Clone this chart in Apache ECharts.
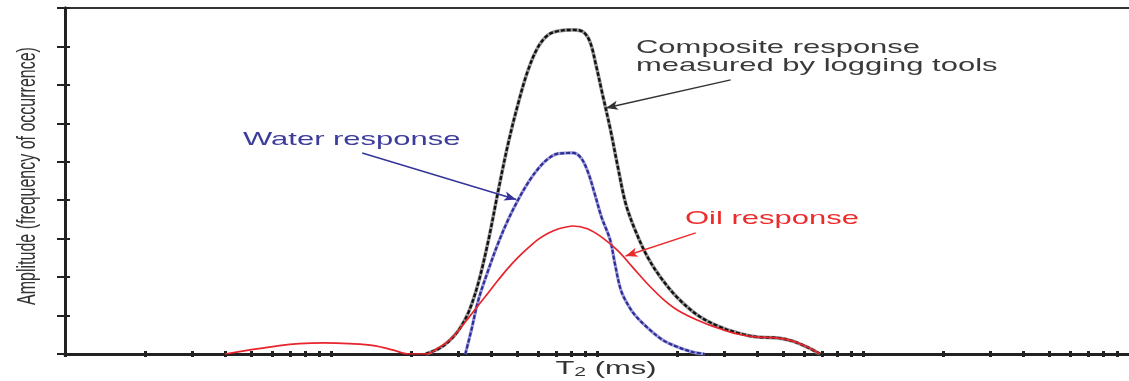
<!DOCTYPE html>
<html>
<head>
<meta charset="utf-8">
<script src="https://cdn.jsdelivr.net/npm/echarts@6/dist/echarts.min.js"></script>
<style>
    html, body {margin: 0; padding: 0; background: #fff;}
    #chart {width: 1129px; height: 381px;}
</style>
</head>
<body>
<div id="chart"></div>
<script>
// T2 (ms), amplitude in tick units (0..9)
const oilT2 = [0.40, 0.49, 0.64, 0.76, 0.94, 1.17, 1.45, 1.72, 1.96, 2.27, 2.54, 2.77, 3.02, 3.29, 3.58,
    3.91, 4.26, 4.64, 5.06, 5.51, 6.01, 6.55, 7.14, 8.13, 9.25, 10.5, 12.0, 13.6, 15.5, 17.7, 20.1, 23.9,
    28.4, 33.7, 40.1, 47.6, 54.2, 61.7, 69.0];
const oilAmp = [0, 0.10, 0.22, 0.27, 0.29, 0.27, 0.22, 0.10, 0, 0, 0.16, 0.34, 0.62, 0.94, 1.27,
    1.60, 1.93, 2.24, 2.52, 2.76, 2.98, 3.14, 3.25, 3.33, 3.25, 3.02, 2.68, 2.26, 1.82, 1.43, 1.14, 0.88,
    0.68, 0.52, 0.44, 0.42, 0.34, 0.18, 0];

const waterT2 = [3.20, 3.37, 3.58, 3.91, 4.26, 4.64, 5.06, 5.51, 6.01, 6.55, 7.14, 8.13, 8.71, 9.25, 9.83,
    10.4, 11.2, 11.7, 12.3, 13.1, 13.9, 15.5, 17.7, 20.1, 22.9, 25.4];
const waterAmp = [0, 0.62, 1.40, 2.20, 2.90, 3.50, 4.02, 4.46, 4.82, 5.08, 5.21, 5.23, 5.10, 4.73, 4.14,
    3.56, 2.97, 2.32, 1.66, 1.27, 1.01, 0.68, 0.36, 0.18, 0.05, 0];

const compositeT2 = [2.27, 2.54, 2.77, 3.02, 3.29, 3.58, 3.91, 4.26, 4.64, 5.06, 5.51, 6.01, 6.55, 7.14,
    8.13, 8.86, 9.41, 9.91, 10.5, 11.2, 12.0, 12.8, 13.9, 15.5, 17.4, 20.1, 23.9, 28.4, 33.7, 40.1, 47.6,
    54.2, 61.7, 69.0];
const compositeAmp = [0, 0.14, 0.33, 0.62, 1.09, 1.85, 2.97, 4.27, 5.49, 6.53, 7.39, 7.99, 8.30, 8.40,
    8.43, 8.38, 8.12, 7.52, 6.74, 5.88, 4.84, 3.93, 3.23, 2.52, 1.98, 1.46, 1.01, 0.73, 0.55, 0.44, 0.42,
    0.34, 0.18, 0];

// annotation arrows: [from, to]
const compositeArrow = [[31.8, 7.13], [10.8, 6.40]];
const waterArrow = [[1.31, 5.23], [4.97, 4.02]];
const oilArrow = [[23.5, 3.15], [12.8, 2.55]];

// tick marks on the log axis: 1..9 in every decade
const decades = [0.1, 1, 10, 100];
const tickMultipliers = [1, 2, 3, 4, 5, 6, 7, 8, 9];

const tickValues = [];
decades.forEach(d => tickMultipliers.forEach(m => tickValues.push(m * d)));

const zip = (xs, ys) => xs.map((x, i) => [x, ys[i]]);

const AXIS_COLOR = '#222';
const FONT = '"Liberation Sans", Arial, sans-serif';
const STRETCH = 1.63;

function logAxis(extra) {
    return Object.assign({
        type: 'log',
        logBase: 10,
        min: 0.1,
        max: 1000,
        position: 'bottom',
        axisLine: {show: true, lineStyle: {color: AXIS_COLOR, width: 3}},
        axisLabel: {show: false},
        splitLine: {show: false},
        minorTick: {show: false}
    }, extra);
}

function valueAxis(extra) {
    return Object.assign({
        type: 'value',
        min: 0,
        max: 9,
        interval: 1,
        position: 'left',
        axisLine: {show: true, lineStyle: {color: AXIS_COLOR, width: 3}},
        axisLabel: {show: false},
        splitLine: {show: false}
    }, extra);
}

function arrow(points, color) {
    return {
        silent: true,
        symbol: ['none', 'arrow'],
        symbolSize: [7, 12],
        label: {show: false},
        lineStyle: {color: color, width: 1.5, type: 'solid'},
        data: [[{coord: points[0]}, {coord: points[1]}]]
    };
}

function label(text, x, y, color) {
    return {
        type: 'text',
        x: x,
        y: y,
        scaleX: STRETCH,
        silent: true,
        style: {
            text: text,
            fill: color,
            font: '19px ' + FONT,
            textAlign: 'left',
            textVerticalAlign: 'middle'
        }
    };
}

function curve(name, xs, ys, lineStyle, markLine) {
    return {
        name: name,
        type: 'line',
        data: zip(xs, ys),
        smooth: 0.35,
        symbol: 'none',
        lineStyle: lineStyle,
        markLine: markLine
    };
}

const chart = echarts.init(document.getElementById('chart'), null, {renderer: 'canvas'});

chart.setOption({
    animation: false,
    backgroundColor: '#fff',
    grid: {left: 65, top: 8, width: 1068, bottom: 27, containLabel: false},
    xAxis: [
        logAxis({axisTick: {show: true, customValues: tickValues, length: 3, lineStyle: {color: AXIS_COLOR, width: 3}}}),
        logAxis({axisTick: {show: true, inside: true, customValues: tickValues, length: 3,
            lineStyle: {color: AXIS_COLOR, width: 3}}}),
        logAxis({position: 'top', axisLine: {show: true, lineStyle: {color: '#333', width: 2}}, axisTick: {show: false}})
    ],
    yAxis: [
        valueAxis({axisTick: {show: true, length: 8, lineStyle: {color: AXIS_COLOR, width: 2}}}),
        valueAxis({axisTick: {show: true, inside: true, length: 5, lineStyle: {color: AXIS_COLOR, width: 2}}})
    ],
    series: [
        curve('Composite base', compositeT2, compositeAmp, {color: '#9a9a9a', width: 3.6}),
        curve('Composite', compositeT2, compositeAmp, {color: '#111', width: 2.4, type: [4, 2]},
            arrow(compositeArrow, '#333')),
        curve('Water base', waterT2, waterAmp, {color: '#9c9cd8', width: 3.2}),
        curve('Water', waterT2, waterAmp, {color: '#2e2e99', width: 2.2, type: [4, 2]},
            arrow(waterArrow, '#33339a')),
        curve('Oil', oilT2, oilAmp, {color: '#e8232b', width: 1.7}, arrow(oilArrow, '#ec2a2a'))
    ],
    graphic: [
        label('Composite response', 636, 48, '#3a3a3a'),
        label('measured by logging tools', 636, 66, '#3a3a3a'),
        label('Water response', 243, 140, '#3c3c9c'),
        label('Oil response', 685, 219, '#ee2b2b'),
        {
            type: 'text',
            x: 28,
            y: 176,
            rotation: Math.PI / 2,
            scaleY: STRETCH,
            silent: true,
            style: {
                text: 'Amplitude (frequency of occurrence)',
                fill: '#333',
                font: '16px ' + FONT,
                textAlign: 'center',
                textVerticalAlign: 'middle'
            }
        },
        {
            type: 'text',
            x: 606,
            y: 369,
            scaleX: STRETCH,
            silent: true,
            style: {
                text: '{a|T}{b|2}{a| (ms)}',
                textAlign: 'center',
                textVerticalAlign: 'middle',
                rich: {
                    a: {fontSize: 19, fontFamily: FONT, fill: '#333', lineHeight: 20},
                    b: {fontSize: 13, fontFamily: FONT, fill: '#333', lineHeight: 8, verticalAlign: 'bottom'}
                }
            }
        }
    ]
});
</script>
</body>
</html>
